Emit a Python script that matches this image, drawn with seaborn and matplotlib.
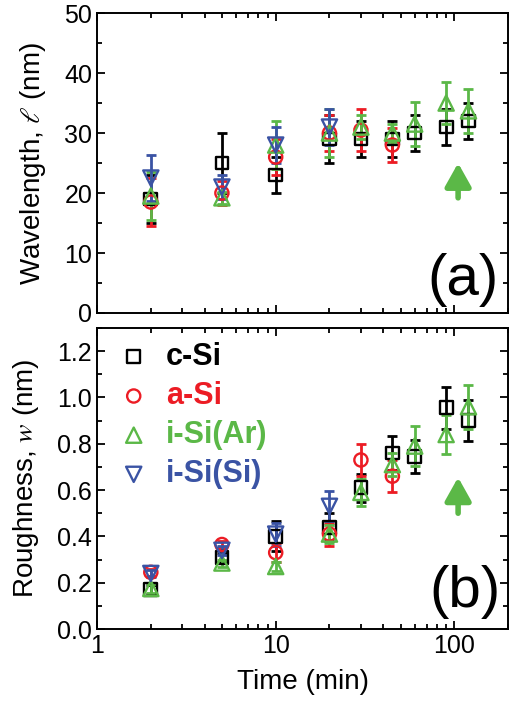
import matplotlib
matplotlib.use('Agg')
import matplotlib.pyplot as plt
import seaborn as sns
from matplotlib.ticker import AutoMinorLocator, FormatStrFormatter

# Data (time in minutes)
times_c = [2, 5, 10, 20, 30, 45, 60, 90, 120]
c_wl = [19, 25, 23, 29, 29, 29, 30, 31, 32]
c_wl_err = [4, 5, 3, 4, 3, 3, 3, 3, 3]
c_rough = [0.17, 0.31, 0.40, 0.44, 0.61, 0.76, 0.745, 0.955, 0.90]
c_rough_err = [0.02, 0.02, 0.065, 0.06, 0.06, 0.075, 0.072, 0.09, 0.09]

times_a = [2, 5, 10, 20, 30, 45]
a_wl = [18.5, 20, 26, 30, 30.5, 28]
a_wl_err = [4, 2, 3, 3, 3.5, 2.8]
a_rough = [0.245, 0.365, 0.33, 0.41, 0.73, 0.66]
a_rough_err = [0.015, 0.015, 0.04, 0.05, 0.07, 0.07]

times_ar = [2, 5, 10, 20, 30, 45, 60, 90, 120]
ar_wl = [19.5, 19.2, 28, 30, 31, 30, 31.5, 35, 33.7]
ar_wl_err = [4, 1, 4, 4, 2, 1.5, 3.7, 3.5, 3.7]
ar_rough = [0.175, 0.285, 0.27, 0.41, 0.59, 0.71, 0.79, 0.84, 0.96]
ar_rough_err = [0.02, 0.015, 0.02, 0.04, 0.06, 0.05, 0.085, 0.085, 0.095]

times_si = [2, 5, 10, 20]
si_wl = [22.5, 21, 28, 31]
si_wl_err = [3.8, 2, 3, 3]
si_rough = [0.24, 0.34, 0.41, 0.53]
si_rough_err = [0.015, 0.02, 0.05, 0.065]

labels = ['c-Si', 'a-Si', 'i-Si(Ar)', 'i-Si(Si)']
colors = ['black', '#ec1c24', '#5bb847', '#3a53a4']
markers = ['s', 'o', '^', 'v']
msizes = [85, 90, 120, 120]

sns.set_style('ticks')
plt.rcParams['font.family'] = ['Liberation Sans', 'DejaVu Sans']
plt.rcParams['mathtext.fontset'] = 'stix'
for k in ['text.color', 'axes.labelcolor', 'xtick.color', 'ytick.color']:
    plt.rcParams[k] = 'black'

fig = plt.figure(figsize=(5.19, 7.04), dpi=100)
ax1 = fig.add_axes([0.187, 0.5554, 0.792, 0.426])
ax2 = fig.add_axes([0.187, 0.1065, 0.792, 0.4276])

top_sets = [(times_c, c_wl, c_wl_err), (times_a, a_wl, a_wl_err),
            (times_ar, ar_wl, ar_wl_err), (times_si, si_wl, si_wl_err)]
bot_sets = [(times_c, c_rough, c_rough_err), (times_a, a_rough, a_rough_err),
            (times_ar, ar_rough, ar_rough_err), (times_si, si_rough, si_rough_err)]

for ax, sets in [(ax1, top_sets), (ax2, bot_sets)]:
    ax.set_xscale('log')
    for (t, y, e), col, mk, ms, lab in zip(sets, colors, markers, msizes, labels):
        ax.errorbar(t, y, yerr=e, fmt='none', ecolor=col, elinewidth=2.0,
                    capsize=3.8, capthick=2.0, zorder=2)
        sns.scatterplot(x=t, y=y, ax=ax, marker=mk, s=ms, facecolor='none',
                        edgecolor=col, linewidth=1.7, zorder=3,
                        label=lab if ax is ax2 else None)
    ax.set_xlim(1, 200)
    ax.set_xticks([1, 10, 100])
    ax.tick_params(which='both', direction='in', top=True, right=True,
                   labelsize=18, width=1.3, color='black')
    ax.tick_params(which='major', length=6)
    ax.tick_params(which='minor', length=3.5)
    ax.yaxis.set_minor_locator(AutoMinorLocator(2))
    for s in ax.spines.values():
        s.set_linewidth(1.4)
        s.set_color('black')

ax1.set_ylim(0, 50)
ax1.set_yticks([0, 10, 20, 30, 40, 50])
ax1.set_xticklabels([])
ax1.set_ylabel(r'Wavelength, $\ell$ (nm)', fontsize=20, labelpad=12)

ax2.set_ylim(0, 1.3)
ax2.set_yticks([0.0, 0.2, 0.4, 0.6, 0.8, 1.0, 1.2])
ax2.yaxis.set_major_formatter(FormatStrFormatter('%.1f'))
ax2.set_xticklabels(['1', '10', '100'])
ax2.set_ylabel(r'Roughness, $w$ (nm)', fontsize=20, labelpad=12)
ax2.set_xlabel('Time (min)', fontsize=20, labelpad=8)

leg = ax2.legend(loc='upper left', bbox_to_anchor=(0.0, 1.025), frameon=False,
                 prop={'weight': 'bold', 'size': 22}, labelcolor=colors,
                 handletextpad=0.55, labelspacing=0.3, borderaxespad=0.3,
                 handlelength=1.0, scatterpoints=1)

arrow_green = '#5bb847'
arrow_style = '-|>,head_length=0.5,head_width=0.28'
ax1.annotate('', xy=(105, 25.0), xytext=(105, 19.2),
             arrowprops=dict(arrowstyle=arrow_style, color=arrow_green, lw=4.0,
                             mutation_scale=28, shrinkA=0, shrinkB=0))
ax2.annotate('', xy=(105, 0.655), xytext=(105, 0.50),
             arrowprops=dict(arrowstyle=arrow_style, color=arrow_green, lw=4.0,
                             mutation_scale=28, shrinkA=0, shrinkB=0))

ax1.text(0.89, 0.06, '(a)', transform=ax1.transAxes, fontsize=42,
         ha='center', va='baseline')
ax2.text(0.895, 0.074, '(b)', transform=ax2.transAxes, fontsize=42,
         ha='center', va='baseline')

fig.savefig('out.png', dpi=100)
